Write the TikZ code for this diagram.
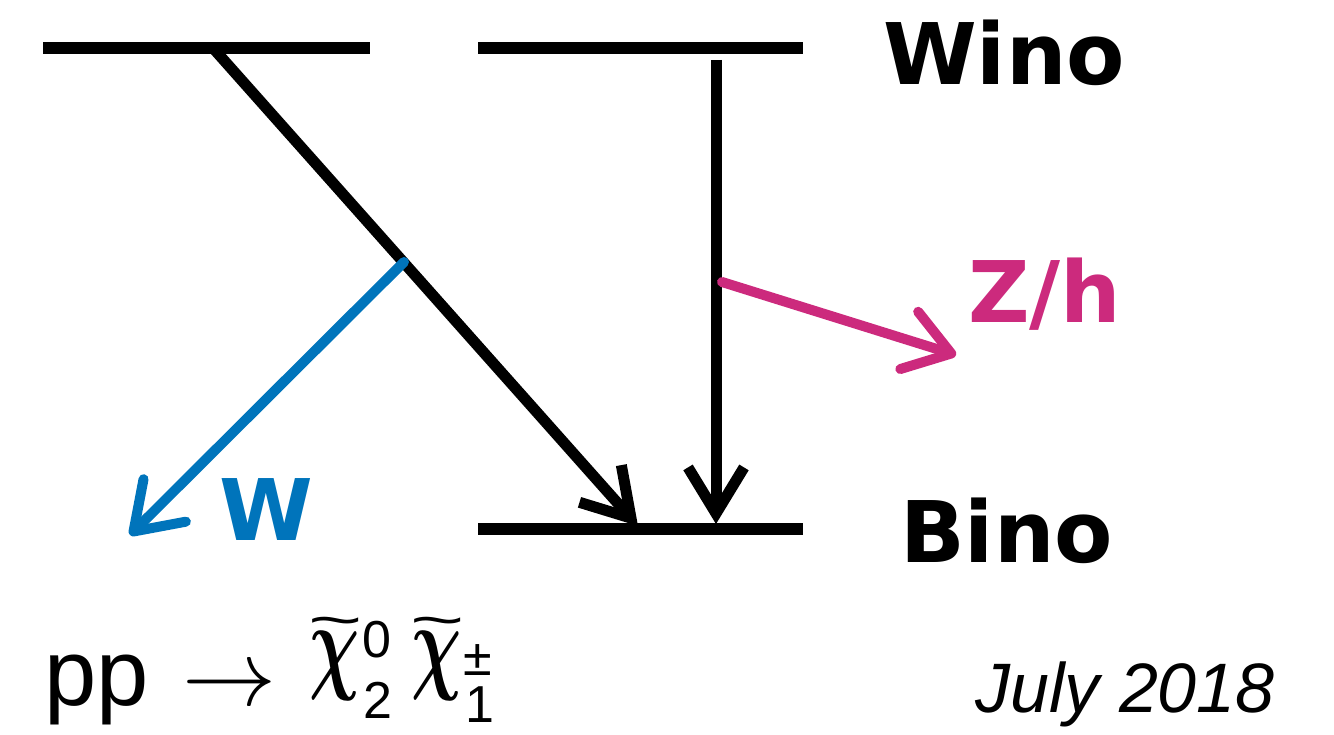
\RequirePackage{fix-cm}
\documentclass[tikz,border=0pt]{standalone}
\usepackage{amsmath}
\usepackage{bm}
\usepackage{graphicx}
\usepackage{fontspec}
\setmainfont{Liberation Sans}
\newfontfamily\djv{DejaVu Sans}
\usetikzlibrary{arrows.meta}
\definecolor{wblue}{RGB}{0,116,187}
\definecolor{zmag}{RGB}{204,42,125}
\newcommand\tchi{\scalebox{0.7}[1.08]{$\bm{\chi}$}\llap{\smash{\raisebox{41pt}{\fontsize{60}{60}\selectfont\scalebox{1.55}[0.9]{\textasciitilde}}}\hspace{-3pt}}}
\tikzset{
  level/.style={line width=12pt},
  decay/.style={line width=11pt,-{Straight Barb[length=46pt,width=56pt]}},
  boson/.style={line width=10pt,line cap=round,-{Straight Barb[length=44pt,width=60pt,round]}},
  lbl/.style={inner sep=0pt,anchor=base west,font=\djv\bfseries\fontsize{85}{90}\selectfont},
  chi/.style={inner sep=0pt,font=\fontsize{100}{100}\selectfont},
  idx/.style={inner sep=0pt,font=\fontsize{52}{56}\selectfont},
}
\begin{document}
\begin{tikzpicture}[x=1pt,y=-1pt]
\useasboundingbox (0,0) rectangle (1334,735);
% levels
\coordinate (tl1) at (43,48); \coordinate (tl2) at (370,48);
\coordinate (tr1) at (478,48); \coordinate (tr2) at (803,48);
\coordinate (b1) at (478,529); \coordinate (b2) at (803,529);
\draw[level] (tl1) -- (tl2);
\draw[level] (tr1) -- (tr2);
\draw[level] (b1) -- (b2);
% decays
\coordinate (dstart) at (213,48);
\coordinate (dend) at (638,526);
\coordinate (vstart) at (716,60);
\coordinate (vend) at (716,524);
\draw[decay] (dstart) -- (dend);
\draw[decay] (vstart) -- (vend);
% bosons
\coordinate (wstart) at (404,262);
\coordinate (wend) at (130,535);
\coordinate (zstart) at (722,282);
\coordinate (zend) at (956,355);
\draw[boson,wblue] (wstart) -- (wend);
\draw[boson,zmag] (zstart) -- (zend);
% labels
\node[lbl] (wino) at (883,85) {Wino};
\node[lbl] (bino) at (900,562) {Bino};
\node[lbl,text=zmag] (zh) at (968,323) {Z/h};
\node[lbl,text=wblue] (w) at (219,540) {W};
% process
\node[inner sep=0pt,anchor=base west,font=\fontsize{94}{100}\selectfont] (pp) at (44,705) {pp\hspace{34pt}{\fontsize{94}{96}\selectfont$\rightarrow$}};
\node[chi] (chi1) at (335,666) {\tchi};
\node[idx] (s1) at (377,640) {0};
\node[idx] (b1i) at (378,700) {2};
\node[chi] (chi2) at (437,666) {\tchi};
\node[idx] (s2) at (478,660) {±};
\node[idx] (b2i) at (480,705) {1};
\node[inner sep=0pt,anchor=base west,font=\itshape\fontsize{70}{74}\selectfont] (date) at (975,712) {July 2018};
\end{tikzpicture}
\end{document}
